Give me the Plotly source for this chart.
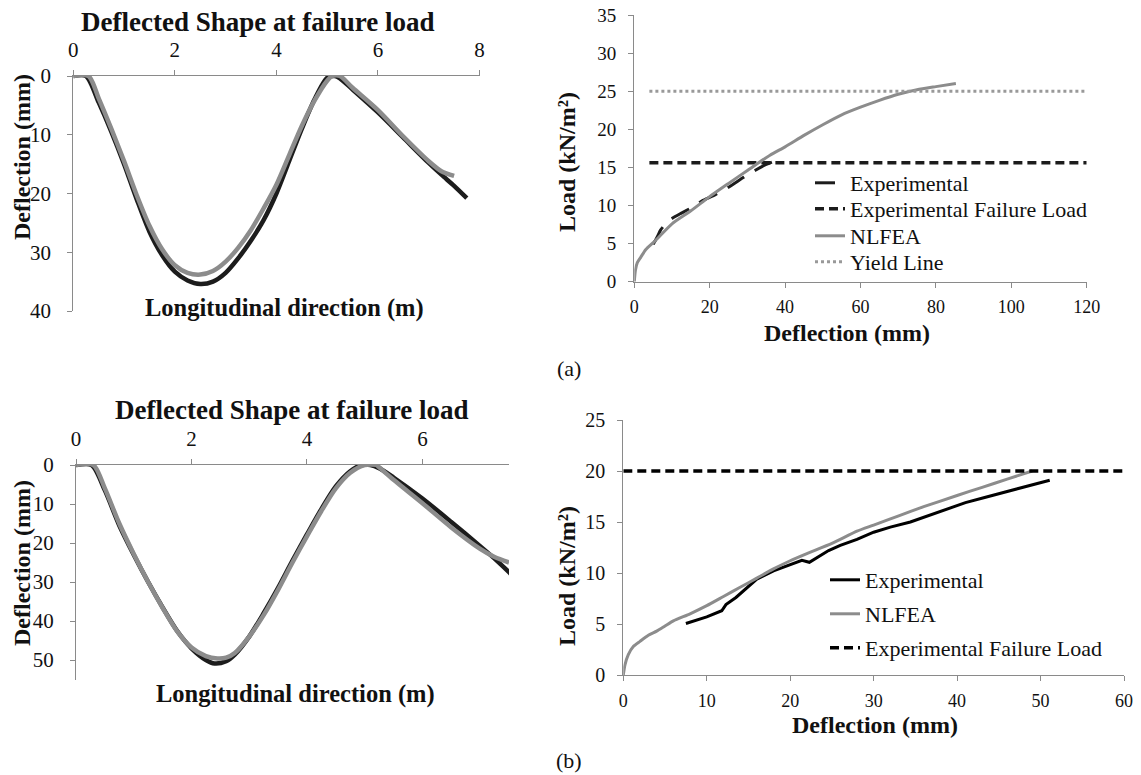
import plotly.graph_objects as go

# ---------------- data ----------------
# (a) deflected shape at failure load
a_shape_x_exp = [0, 0.25, 0.5, 0.75, 1.0, 1.25, 1.5, 1.75, 2.0, 2.25, 2.5, 2.75, 3.0, 3.25, 3.5, 3.75,
                 4.0, 4.25, 4.5, 4.75, 5.0, 5.15, 5.25, 5.5, 6.0, 6.5, 7.0, 7.25, 7.5, 7.75]
a_shape_y_exp = [0, 0, 4.5, 9.5, 15, 21, 26.5, 30.5, 33.3, 34.8, 35.4, 35.0, 33.5, 31.0, 28.0, 24.5,
                 20.0, 14.5, 9.0, 4.0, 0.3, 0, 0.4, 2.3, 6.2, 10.5, 14.8, 16.8, 18.7, 20.8]
a_shape_x_fea = [0, 0.3, 0.5, 0.75, 1.0, 1.25, 1.5, 1.75, 2.0, 2.25, 2.5, 2.75, 3.0, 3.25, 3.5, 3.75,
                 4.0, 4.25, 4.5, 4.75, 5.0, 5.1, 5.25, 5.5, 6.0, 6.5, 7.0, 7.25, 7.5]
a_shape_y_fea = [0, 0, 3.8, 9.0, 14.5, 20.3, 25.5, 29.5, 32.2, 33.5, 33.8, 33.2, 31.6, 29.2, 26.2, 22.5,
                 18.5, 13.5, 8.5, 4.2, 0.8, 0, 0, 2.0, 5.8, 10.3, 14.5, 16.2, 17.0]

# (a) load-deflection
a_exp_defl = [5.0, 6.0, 7.0, 8.5, 10, 12.5, 15.5, 18, 21, 25, 29, 32, 35, 36.5]
a_exp_load = [4.9, 5.8, 6.8, 7.7, 8.3, 9.0, 9.8, 10.6, 11.3, 12.4, 13.7, 14.6, 15.4, 15.7]
a_fea_defl = [0, 0.3, 0.8, 1.7, 3, 5.6, 10, 15, 19.8, 25, 30, 36, 40, 45, 50, 55, 60, 65, 70, 75, 80, 85.3]
a_fea_load = [0, 1.5, 2.5, 3.2, 4.2, 5.4, 7.6, 9.3, 11.1, 12.9, 14.6, 16.6, 17.7, 19.2, 20.6, 21.9, 22.9,
              23.8, 24.6, 25.2, 25.6, 26.0]
a_fail_defl = [4, 120]
a_fail_load = [15.6, 15.6]
a_yield_defl = [4, 120]
a_yield_load = [25, 25]

# (b) deflected shape at failure load
b_shape_x_exp = [0, 0.27, 0.5, 0.75, 1.0, 1.25, 1.5, 1.75, 2.0, 2.25, 2.4, 2.6, 2.75, 3.0, 3.25, 3.5,
                 3.75, 4.0, 4.25, 4.5, 4.75, 4.95, 5.1, 5.25, 5.5, 6.0, 6.5, 7.0, 7.25, 7.5, 7.6]
b_shape_y_exp = [0, 0, 6.5, 15.5, 23, 30, 36.5, 42.5, 47, 50, 50.9, 50.3, 48.6, 44, 38, 31.5,
                 24.5, 17.8, 11.3, 5.5, 1.6, 0, 0, 0.8, 3.2, 8.6, 14.6, 20.8, 24.0, 27.5, 29.0]
b_shape_x_fea = [0, 0.3, 0.5, 0.75, 1.0, 1.25, 1.5, 1.75, 2.0, 2.25, 2.45, 2.6, 2.75, 3.0, 3.25, 3.5,
                 3.75, 4.0, 4.25, 4.5, 4.75, 5.0, 5.2, 5.25, 5.5, 6.0, 6.5, 7.0, 7.25, 7.5]
b_shape_y_fea = [0, 0, 6, 15, 22.8, 30, 36.6, 42.6, 46.8, 49, 49.6, 49.4, 48.2, 44, 38.5, 32,
                 25, 18.3, 11.8, 6, 2, 0, 0, 0.6, 3.8, 9.8, 16, 21.5, 23.6, 25.0]

# (b) load-deflection
b_exp_defl = [7.5, 8.5, 10, 11.8, 12.3, 13.5, 15, 16, 18, 20, 21.4, 22.3, 23.4, 24.6, 26, 28, 30, 32,
              34.4, 36.5, 38.9, 41, 43.3, 46, 48.5, 51.1]
b_exp_load = [5.05, 5.3, 5.7, 6.3, 6.9, 7.6, 8.7, 9.4, 10.2, 10.8, 11.25, 11.05, 11.6, 12.2, 12.7, 13.3,
              14.0, 14.5, 15.0, 15.6, 16.3, 16.9, 17.4, 18.0, 18.5, 19.1]
b_fea_defl = [0, 0.2, 0.6, 1.2, 2, 3, 4, 5, 6, 8, 10, 12, 14, 16, 18, 20, 22, 25, 28, 30, 33, 36, 40, 43, 46, 49]
b_fea_load = [0, 1.0, 2.0, 2.8, 3.3, 3.9, 4.3, 4.8, 5.3, 6.0, 6.8, 7.7, 8.6, 9.5, 10.4, 11.2, 11.9, 12.9,
              14.1, 14.7, 15.6, 16.5, 17.6, 18.4, 19.2, 20.0]
b_fail_defl = [0, 60]
b_fail_load = [20, 20]

# ---------------- styles ----------------
FONT = "Liberation Serif"
TXT = "#111111"
BLACK = "#1c1c1c"
GRAY = "#8c8c8c"
AXIS = "#8a8a8a"
W = 1141
H = 775


def px(x):
    return x / W


def py(y):
    return 1 - y / H


fig = go.Figure()

# top-left
fig.add_trace(go.Scatter(x=a_shape_x_exp, y=a_shape_y_exp, mode="lines",
                         line=dict(color=BLACK, width=4.5, shape="spline", smoothing=0.8),
                         xaxis="x", yaxis="y", showlegend=False))
fig.add_trace(go.Scatter(x=a_shape_x_fea, y=a_shape_y_fea, mode="lines",
                         line=dict(color=GRAY, width=4.5, shape="spline", smoothing=0.8),
                         xaxis="x", yaxis="y", showlegend=False))
# top-right (each legend entry in its own legend box to match row spacing)
fig.add_trace(go.Scatter(x=a_exp_defl, y=a_exp_load, mode="lines", name="Experimental",
                         line=dict(color=BLACK, width=3, dash="20px,12px", shape="spline", smoothing=0.6),
                         xaxis="x2", yaxis="y2", legend="legend"))
fig.add_trace(go.Scatter(x=a_fail_defl, y=a_fail_load, mode="lines", name="Experimental Failure Load",
                         line=dict(color=BLACK, width=3.5, dash="9px,5px"), xaxis="x2", yaxis="y2",
                         legend="legend2"))
fig.add_trace(go.Scatter(x=a_fea_defl, y=a_fea_load, mode="lines", name="NLFEA",
                         line=dict(color=GRAY, width=3, shape="spline", smoothing=0.6),
                         xaxis="x2", yaxis="y2", legend="legend3"))
fig.add_trace(go.Scatter(x=a_yield_defl, y=a_yield_load, mode="lines", name="Yield Line",
                         line=dict(color="#999999", width=3, dash="dot"), xaxis="x2", yaxis="y2",
                         legend="legend4"))
# bottom-left
fig.add_trace(go.Scatter(x=b_shape_x_exp, y=b_shape_y_exp, mode="lines",
                         line=dict(color=BLACK, width=4.5, shape="spline", smoothing=0.8),
                         xaxis="x3", yaxis="y3", showlegend=False))
fig.add_trace(go.Scatter(x=b_shape_x_fea, y=b_shape_y_fea, mode="lines",
                         line=dict(color=GRAY, width=4.5, shape="spline", smoothing=0.8),
                         xaxis="x3", yaxis="y3", showlegend=False))
# bottom-right
fig.add_trace(go.Scatter(x=b_exp_defl, y=b_exp_load, mode="lines", name="Experimental",
                         line=dict(color="#000000", width=3), xaxis="x4", yaxis="y4", legend="legend5"))
fig.add_trace(go.Scatter(x=b_fea_defl, y=b_fea_load, mode="lines", name="NLFEA",
                         line=dict(color=GRAY, width=3, shape="spline", smoothing=0.6),
                         xaxis="x4", yaxis="y4", legend="legend6"))
fig.add_trace(go.Scatter(x=b_fail_defl, y=b_fail_load, mode="lines", name="Experimental Failure Load",
                         line=dict(color="#000000", width=3.5, dash="9px,5px"), xaxis="x4", yaxis="y4",
                         legend="legend7"))

axis_common = dict(showgrid=False, zeroline=False, showline=True, linecolor=AXIS, linewidth=1.3,
                   ticks="outside", ticklen=5, tickcolor=AXIS, tickwidth=1.3, automargin=False,
                   tickfont=dict(family=FONT, size=20, color=TXT))


def leg(x, y):
    return dict(x=px(x), y=py(y), xanchor="left", yanchor="middle", bgcolor="rgba(0,0,0,0)",
                borderwidth=0, font=dict(family=FONT, size=22, color=TXT))


fig.update_layout(
    template="none",
    width=W, height=H, margin=dict(l=0, r=0, t=0, b=0, pad=0), autosize=False,
    paper_bgcolor="white", plot_bgcolor="white",
    font=dict(family=FONT, color=TXT),
    xaxis=dict(axis_common, domain=[px(73.3), px(479.5)], range=[0, 8], dtick=2, side="top", anchor="y",
               ticklabelstandoff=4, tickfont=dict(family=FONT, size=21, color=TXT)),
    yaxis=dict(axis_common, domain=[py(311), py(76)], range=[40, 0], dtick=10, anchor="x",
               ticklabelstandoff=12, tickfont=dict(family=FONT, size=21, color=TXT)),
    xaxis2=dict(axis_common, domain=[px(634.3), px(1086.7)], range=[0, 120], dtick=20, anchor="y2",
                ticklabelstandoff=4, tickfont=dict(family=FONT, size=18, color=TXT)),
    yaxis2=dict(axis_common, domain=[py(281.7), py(15)], range=[0, 35], dtick=5, anchor="x2",
                ticklabelstandoff=8, tickfont=dict(family=FONT, size=19, color=TXT)),
    xaxis3=dict(axis_common, domain=[px(76), px(509)], range=[0, 7.5], tickvals=[0, 2, 4, 6], side="top",
                anchor="y3", ticklabelstandoff=4, tickfont=dict(family=FONT, size=21, color=TXT)),
    yaxis3=dict(axis_common, domain=[py(679.5), py(465)], range=[55, 0], tickvals=[0, 10, 20, 30, 40, 50],
                anchor="x3", ticklabelstandoff=12, tickfont=dict(family=FONT, size=21, color=TXT)),
    xaxis4=dict(axis_common, domain=[px(623.3), px(1124)], range=[0, 60], dtick=10, anchor="y4",
                ticklabelstandoff=4, tickfont=dict(family=FONT, size=18, color=TXT)),
    yaxis4=dict(axis_common, domain=[py(675), py(420)], range=[0, 25], dtick=5, anchor="x4",
                ticklabelstandoff=8, tickfont=dict(family=FONT, size=20, color=TXT)),
    legend=leg(810, 183),
    legend2=leg(810, 209),
    legend3=leg(810, 236),
    legend4=leg(810, 262),
    legend5=leg(825, 580),
    legend6=leg(825, 614),
    legend7=leg(825, 648),
)

ann = []


def add_text(x, y, text, size, angle=0):
    ann.append(dict(x=px(x), y=py(y), xref="paper", yref="paper", text=text, showarrow=False,
                    xanchor="center", yanchor="middle", textangle=angle,
                    font=dict(family=FONT, size=size, color=TXT)))


add_text(257.5, 22, "<b>Deflected Shape at failure load</b>", 27)
add_text(284, 308, "<b>Longitudinal direction (m)</b>", 24.5)
add_text(22, 157, "<b>Deflection (mm)</b>", 24, -90)
add_text(291.7, 410, "<b>Deflected Shape at failure load</b>", 27)
add_text(295.5, 694, "<b>Longitudinal direction (m)</b>", 24.5)
add_text(22, 563, "<b>Deflection (mm)</b>", 24, -90)
add_text(567, 162, "<b>Load (kN/m²)</b>", 24, -90)
add_text(847, 333, "<b>Deflection (mm)</b>", 24)
add_text(569, 368, "(a)", 22)
add_text(567, 576, "<b>Load (kN/m²)</b>", 24, -90)
add_text(875, 725, "<b>Deflection (mm)</b>", 24)
add_text(569, 760, "(b)", 22)

fig.update_layout(annotations=ann)
fig.write_html("out.html")
